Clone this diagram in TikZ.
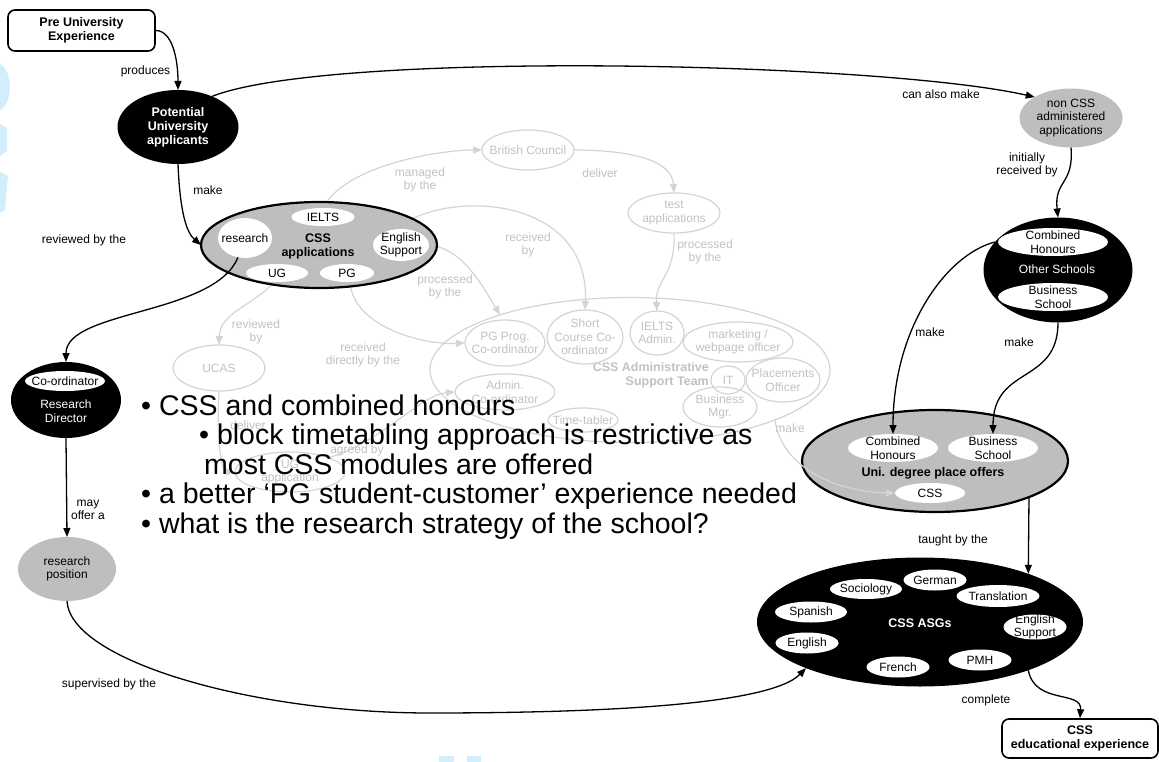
\documentclass[tikz,border=0pt]{standalone}
\usepackage{fontspec}
\setmainfont{Liberation Sans}
\usetikzlibrary{shapes.geometric,arrows.meta,calc}

\definecolor{nodegray}{HTML}{BEBEBE}
\definecolor{fadeline}{HTML}{D4D4D4}
\definecolor{fadetext}{HTML}{C2C2C2}
\definecolor{wmblue}{HTML}{D2EEFC}

\pgfdeclarelayer{paper}
\pgfdeclarelayer{faded}
\pgfsetlayers{paper,faded,main}

\tikzset{
  txt/.style={font=\fontsize{12}{13.5}\selectfont, align=center, inner sep=0pt},
  wtxt/.style={txt, text=white},
  btxt/.style={font=\fontsize{12.5}{14}\selectfont\bfseries, align=center, inner sep=0pt},
  wbtxt/.style={btxt, text=white},
  ftxt/.style={txt, text=fadetext},
  fbtxt/.style={btxt, text=fadetext},
  bullet/.style={font=\fontsize{28.5}{29.5}\selectfont, anchor=base west, inner sep=0pt},
  arr/.style={draw=black, line width=1.3pt, -{Triangle[length=9pt,width=7pt]}},
  farr/.style={draw=fadeline, line width=1.2pt, -{Triangle[length=9pt,width=7pt]}},
  ov/.style={ellipse, inner sep=0pt, outer sep=0pt},
  blackov/.style={ov, fill=black},
  grayov/.style={ov, fill=nodegray},
  rimov/.style={ov, fill=nodegray, draw=black, line width=2.2pt},
  whiteov/.style={ov, fill=white},
  fadeov/.style={ov, draw=fadeline, line width=1.2pt},
  roundbox/.style={draw=black, rounded corners=7pt, line width=1.6pt, inner sep=0pt},
}

% ellipse style, text style, name, centre, width, height, text
\newcommand\conceptoval[7]{%
  \node[#1, minimum width=#5pt, minimum height=#6pt] (#3) at (#4) {};
  \node[#2] (#3-t) at (#3) {#7};}

\begin{document}
\begin{tikzpicture}[x=1pt,y=-1pt]
\begin{pgfonlayer}{paper}
  \fill[white] (0,0) rectangle (1159,762);
  % pale blue marks along the edges
  \fill[wmblue] (0,64) .. controls (13,70) and (13,104) .. (0,110) -- cycle;
  \fill[wmblue] (0,124) -- (7,128) -- (7,151) -- (0,156) -- cycle;
  \fill[wmblue] (0,172) -- (8,176) -- (5,210) -- (0,213) -- cycle;
  \fill[wmblue] (439,756) rectangle (454,762);
  \fill[wmblue] (467,756) rectangle (481,762);
\end{pgfonlayer}
\useasboundingbox (0,0) rectangle (1159,762);

% ---------- main concept map ----------
\node[roundbox, btxt, minimum width=147pt, minimum height=41pt] (pre) at (81.5,30.5) {Pre University\\Experience};
\conceptoval{blackov}{wbtxt}{pot}{178,127}{121}{74}{Potential\\University\\applicants}

% CSS applications
\node[rimov, minimum width=236pt, minimum height=86pt] (cssapp) at (319,245) {};
\node[btxt] (cssapp-t) at (318,246) {CSS\\applications};
\conceptoval{whiteov}{txt}{ielts}{323,217}{63}{18}{IELTS}
\conceptoval{whiteov}{txt}{research}{245,238}{54}{40}{research}
\conceptoval{whiteov}{txt}{es}{401,245}{56}{32}{English\\Support}
\conceptoval{whiteov}{txt}{ug}{277,273}{62}{18}{UG}
\conceptoval{whiteov}{txt}{pg}{347,273}{54}{18}{PG}

% research director and position
\node[blackov, minimum width=110pt, minimum height=76pt] (rd) at (66,400) {};
\conceptoval{whiteov}{txt}{coord}{65,381}{80}{20}{Co-ordinator}
\node[wtxt] (rd-t) at (66,411) {Research\\Director};
\conceptoval{grayov}{txt}{rp}{67,569}{98}{64}{research\\position}

% other schools
\conceptoval{grayov}{txt}{noncss}{1071,118}{103}{59}{non CSS\\administered\\applications}
\node[blackov, minimum width=149pt, minimum height=105pt] (other) at (1058,270) {};
\node[wtxt] (other-t) at (1057,269) {Other Schools};
\conceptoval{whiteov}{txt}{och}{1053,242}{110}{28}{Combined\\Honours}
\conceptoval{whiteov}{txt}{obs}{1053,297}{110}{28}{Business\\School}

% degree offers
\node[rimov, minimum width=266pt, minimum height=102pt] (uni) at (935,461) {};
\node[btxt] (uni-t) at (933,473) {Uni. degree place offers};
\conceptoval{whiteov}{txt}{uch}{893,448}{90}{28}{Combined\\Honours}
\conceptoval{whiteov}{txt}{ubs}{993,448}{90}{28}{Business\\School}
\conceptoval{whiteov}{txt}{ucss}{930,493}{70}{20}{CSS}

% academic subject groups
\node[blackov, minimum width=326pt, minimum height=129pt] (asg) at (920,622) {};
\node[wbtxt] (asg-t) at (920,623) {CSS ASGs};
\conceptoval{whiteov}{txt}{soc}{866,589}{72}{20}{Sociology}
\conceptoval{whiteov}{txt}{ger}{935,580}{63}{21}{German}
\conceptoval{whiteov}{txt}{tra}{998,596}{83}{22}{Translation}
\conceptoval{whiteov}{txt}{spa}{811,612}{72}{21}{Spanish}
\conceptoval{whiteov}{txt}{aes}{1035,627}{63}{25}{English\\Support}
\conceptoval{whiteov}{txt}{eng}{807,643}{63}{21}{English}
\conceptoval{whiteov}{txt}{fre}{898,667}{63}{21}{French}
\conceptoval{whiteov}{txt}{pmh}{980,660}{63}{21}{PMH}

\node[roundbox, btxt, minimum width=156pt, minimum height=39pt] (edu) at (1080,738.5) {CSS\\educational experience};

% ---------- administrative layer (faded) ----------
\begin{pgfonlayer}{faded}
\conceptoval{fadeov}{ftxt}{bc}{528,150}{92}{40}{British Council}
\conceptoval{fadeov}{ftxt}{test}{674,213}{92}{40}{test\\applications}
\conceptoval{fadeov}{ftxt}{ucas}{219,368}{92}{46}{UCAS}
\conceptoval{fadeov}{ftxt}{ugapp}{290,472}{110}{40}{UG\\application}
\node[fadeov, minimum width=400pt, minimum height=145pt] (adm) at (630,370) {};
\node[fbtxt, align=right, anchor=east] (adm-t) at (709,375) {CSS Administrative\\Support Team};
\conceptoval{fadeov}{ftxt}{pgp}{505,343}{80}{46}{PG Prog.\\Co-ordinator}
\conceptoval{fadeov}{ftxt}{sc}{585,337}{76}{54}{Short\\Course Co-\\ordinator}
\conceptoval{fadeov}{ftxt}{ia}{657,333}{54}{44}{IELTS\\Admin.}
\conceptoval{fadeov}{ftxt}{mkt}{738,342}{110}{40}{marketing /\\webpage officer}
\conceptoval{fadeov}{ftxt}{it}{728,380}{34}{28}{IT}
\conceptoval{fadeov}{ftxt}{plc}{783,380}{74}{44}{Placements\\Officer}
\conceptoval{fadeov}{ftxt}{bm}{720,407}{74}{40}{Business\\Mgr.}
\conceptoval{fadeov}{ftxt}{admc}{505,392}{100}{36}{Admin.\\Co-ordinator}
\conceptoval{fadeov}{ftxt}{tt}{583,420}{70}{24}{Time-tabler}

\draw[farr] (ielts.north) .. controls (345,165) and (440,150) .. (bc.west);
\draw[farr] (bc.east) .. controls (630,150) and (672,160) .. (test.north);
\draw[farr] (test.south) .. controls (676,275) and (655,280) .. (ia.north);
\draw[farr] (es.110) .. controls (445,188) and (590,195) .. (sc.north);
\draw[farr] (es.east) .. controls (462,248) and (482,285) .. (adm.157);
\draw[farr] (ug.250) .. controls (255,305) and (220,312) .. (ucas.north);
\draw[farr] (pg.290) .. controls (352,325) and (420,345) .. (pgp.west);
\draw[farr] (ucas.south) .. controls (216,440) and (222,472) .. (ugapp.west);
\draw[farr] (ugapp.20) .. controls (385,440) and (420,395) .. (admc.west);

\node[ftxt] (f-managed) at (420,180) {managed\\by the};
\node[ftxt] (f-deliver1) at (600,173) {deliver};
\node[ftxt] (f-proc1) at (705,252) {processed\\by the};
\node[ftxt] (f-recv) at (528,245) {received\\by};
\node[ftxt] (f-proc2) at (445,287) {processed\\by the};
\node[ftxt] (f-review) at (256,332) {reviewed\\by};
\node[ftxt] (f-direct) at (363,355) {received\\directly by the};
\node[ftxt] (f-deliver2) at (248,425) {deliver};
\node[ftxt] (f-agreed) at (357,450) {agreed by};
\node[ftxt] (f-make) at (790,428) {make};
\end{pgfonlayer}
\draw[farr] (adm.-19) .. controls (782,470) and (840,492) .. (ucss.west);

% ---------- connectors ----------
\draw[arr] (pre.east) .. controls +(16,0) and +(0,-32) .. (pot.north);
\draw[arr] (pot.south) .. controls +(2,50) and +(-14,-12) .. (cssapp.west);
\draw[arr] (research.250) .. controls (215,315) and (66,310) .. (rd.north);
\draw[arr] (rd.south) -- (rp.north);
\draw[arr] (rp.south) .. controls (70,660) and (250,713) .. (430,713)
           .. controls (600,713) and (770,705) .. (asg.202);
\draw[arr] (pot.42) .. controls (330,50) and (880,62) .. (noncss.150);
\draw[arr] (noncss.south) .. controls (1074,185) and (1054,180) .. (other.north);
\draw[arr] (other.156) .. controls (945,255) and (893,330) .. (uch.north);
\draw[arr] (other.south) .. controls (1058,385) and (993,365) .. (ubs.north);
\draw[arr] (uni.-21) -- (asg.24);
\draw[arr] (asg.-24) .. controls (1035,705) and (1082,690) .. (edu.north);

\node[txt] (l-produces) at (145.5,71) {produces};
\node[txt] (l-make1) at (208,190) {make};
\node[txt] (l-review) at (84,240) {reviewed by the};
\node[txt] (l-offer) at (88,510) {may\\offer a};
\node[txt] (l-super) at (109,684) {supervised by the};
\node[txt] (l-also) at (941,94) {can also make};
\node[txt] (l-init) at (1027,165) {initially\\received by};
\node[txt] (l-make2) at (930,332) {make};
\node[txt] (l-make3) at (1019,342) {make};
\node[txt] (l-taught) at (953,540) {taught by the};
\node[txt] (l-complete) at (986,700) {complete};

% ---------- notes ----------
\node[bullet] (b1) at (141,415) {• CSS and combined honours};
\node[bullet] (b2) at (199,444.5) {• block timetabling approach is restrictive as};
\node[bullet] (b3) at (204,474) {most CSS modules are offered};
\node[bullet] (b4) at (141,503.5) {• a better ‘PG student-customer’ experience needed};
\node[bullet] (b5) at (141,533) {• what is the research strategy of the school?};
\end{tikzpicture}
\end{document}
